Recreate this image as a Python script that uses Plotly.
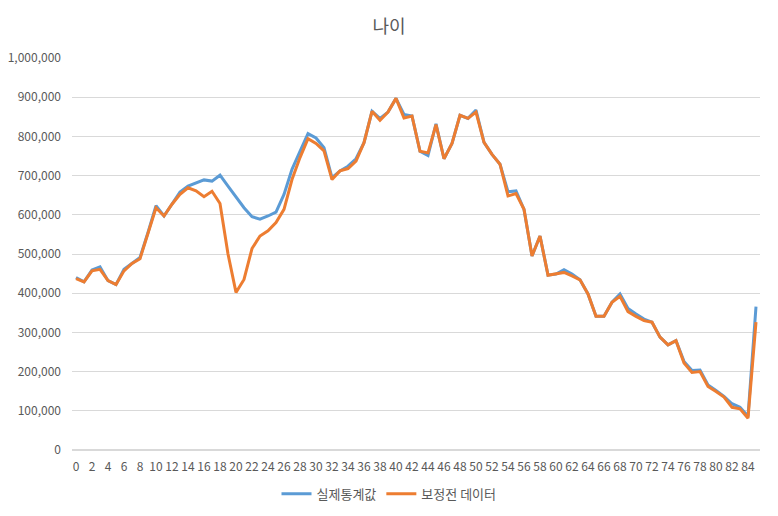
import plotly.graph_objects as go

ages = list(range(86))
actual = [440000, 429000, 459000, 467000, 432000, 422000, 461000, 476000, 491000, 555000,
          623000, 597000, 627000, 658000, 673000, 682000, 689000, 686000, 701000, 673000,
          646000, 618000, 595000, 589000, 597000, 607000, 652000, 716000, 762000, 807000,
          796000, 771000, 695000, 712000, 724000, 743000, 784000, 864000, 846000, 862000,
          897000, 856000, 852000, 762000, 751000, 832000, 743000, 782000, 854000, 846000,
          867000, 785000, 754000, 729000, 659000, 661000, 614000, 495000, 546000, 446000,
          449000, 460000, 449000, 434000, 398000, 341000, 341000, 377000, 398000, 361000,
          347000, 334000, 326000, 288000, 268000, 279000, 226000, 203000, 204000, 166000,
          152000, 137000, 118000, 109000, 86000, 366000]
raw = [437000, 429000, 457000, 461000, 432000, 422000, 457000, 476000, 488000, 555000,
       618000, 597000, 627000, 652000, 669000, 661000, 646000, 660000, 629000, 500000,
       402000, 435000, 514000, 546000, 559000, 580000, 614000, 690000, 746000, 794000,
       782000, 763000, 690000, 712000, 718000, 737000, 784000, 864000, 841000, 862000,
       897000, 847000, 852000, 762000, 758000, 830000, 743000, 782000, 854000, 846000,
       862000, 785000, 754000, 729000, 648000, 654000, 614000, 495000, 546000, 446000,
       449000, 453000, 444000, 434000, 398000, 341000, 341000, 377000, 392000, 353000,
       341000, 330000, 326000, 288000, 268000, 279000, 222000, 198000, 200000, 162000,
       149000, 135000, 109000, 105000, 81000, 326000]
tick_labels = [str(a) for a in range(0, 86, 2)]

fig = go.Figure()
fig.add_trace(go.Scatter(x=ages, y=actual, mode="lines", name="실제통계값",
                         line=dict(color="#5B9BD5", width=3)))
fig.add_trace(go.Scatter(x=ages, y=raw, mode="lines", name="보정전 데이터",
                         line=dict(color="#ED7D31", width=3)))

font_family = "Noto Sans CJK KR, Noto Sans, sans-serif"
fig.update_layout(
    width=778, height=516,
    margin=dict(l=72, r=18, t=58, b=66, autoexpand=False),
    paper_bgcolor="white", plot_bgcolor="white",
    font=dict(family=font_family, color="#595959", size=12),
    title=dict(text="나이", x=0.5, xanchor="center", y=0.948, yanchor="middle",
               font=dict(size=18, color="#595959", family=font_family)),
    showlegend=True,
    legend=dict(orientation="h", xref="container", x=0.5, xanchor="center",
                yref="container", y=0.043, yanchor="middle",
                font=dict(size=13, color="#595959"), itemwidth=30),
)
fig.update_xaxes(
    range=[-0.5, 85.5], tickmode="array", tickvals=list(range(0, 86, 2)),
    ticktext=tick_labels, showgrid=False, zeroline=False, showline=False,
    ticks="", tickfont=dict(size=12, color="#595959"), tickangle=0,
    ticklabelstandoff=8, automargin=False,
)
fig.update_yaxes(
    range=[0, 1000000], dtick=100000, tickformat=",", showgrid=True,
    gridcolor="#D9D9D9", gridwidth=1, zeroline=True, zerolinecolor="#D9D9D9",
    showline=False, ticks="", ticklabelstandoff=10, automargin=False,
    tickfont=dict(size=12, color="#595959"),
)
fig.write_html("out.html")
